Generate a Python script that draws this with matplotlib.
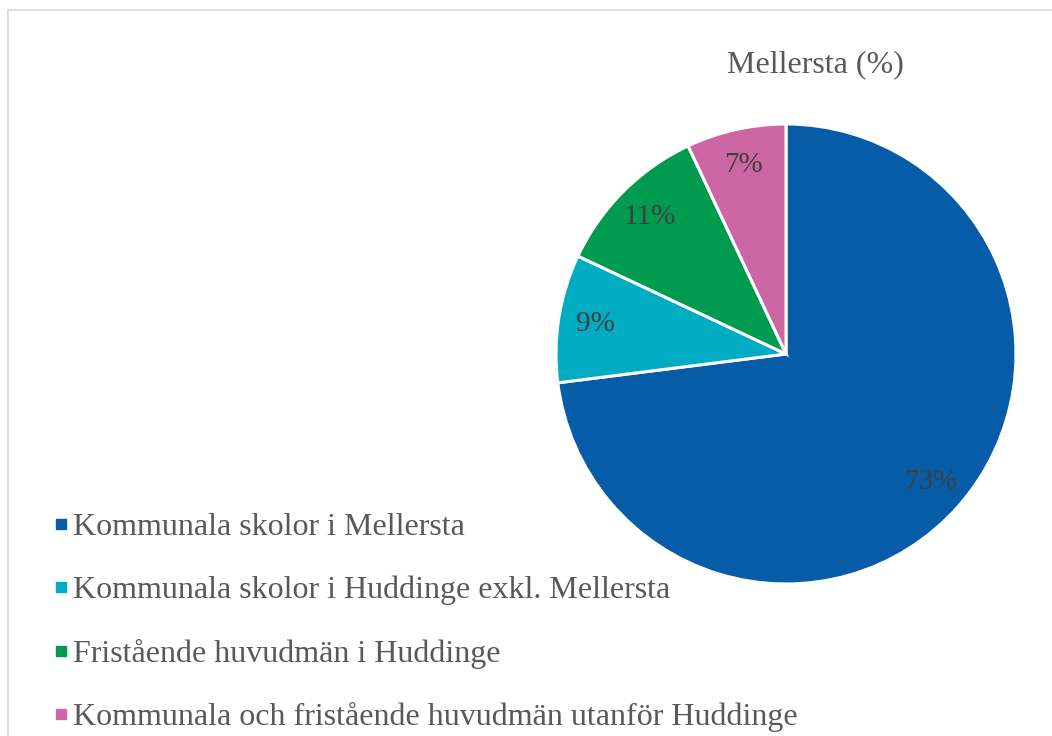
import matplotlib.pyplot as plt
from matplotlib.lines import Line2D
from matplotlib.patches import Rectangle

plt.rcParams['font.family'] = ['Liberation Serif', 'DejaVu Serif']

title = 'Mellersta (%)'
categories = ['Kommunala skolor i Mellersta',
              'Kommunala skolor i Huddinge exkl. Mellersta',
              'Fristående huvudmän i Huddinge',
              'Kommunala och fristående huvudmän utanför Huddinge']
values = [73, 9, 11, 7]
colors = ['#075CA8', '#00ACC1', '#009B4E', '#CC67A3']

W, H = 1052, 736
fig = plt.figure(figsize=(W / 100, H / 100), dpi=100)

# light grey chart frame (cut off at right/bottom like the reference)
fig.patches.append(Rectangle((8 / W, -0.1), 1.2, (H - 10) / H + 0.1,
                             transform=fig.transFigure, fill=False,
                             edgecolor='#D9D9D9', linewidth=1.2))

cx, cy, r = 786, 354, 230
ax = fig.add_axes([(cx - r) / W, (H - cy - r) / H, 2 * r / W, 2 * r / H])
wedges, _, autotexts = ax.pie(values, colors=colors, startangle=90, counterclock=False,
                              autopct='%1.0f%%', pctdistance=0.84,
                              wedgeprops=dict(edgecolor='white', linewidth=2.2),
                              textprops=dict(color='#404040', fontsize=21))
ax.set_xlim(-1, 1)
ax.set_ylim(-1, 1)
ax.set_aspect('equal')
ax.axis('off')

fig.text(815 / W, 1 - 65 / H, title, ha='center', va='center',
         fontsize=23, color='#595959')

handles = [Line2D([], [], linestyle='none', marker='s', markersize=7.5,
                  markerfacecolor=c, markeredgecolor=c) for c in colors]
fig.legend(handles, categories, loc='upper left', bbox_to_anchor=(35 / W, 1 - 497 / H),
           frameon=False, fontsize=23, labelcolor='#595959', handlelength=0.6,
           handletextpad=0.1, labelspacing=1.05, borderpad=0)

fig.savefig('out.png', dpi=100)
